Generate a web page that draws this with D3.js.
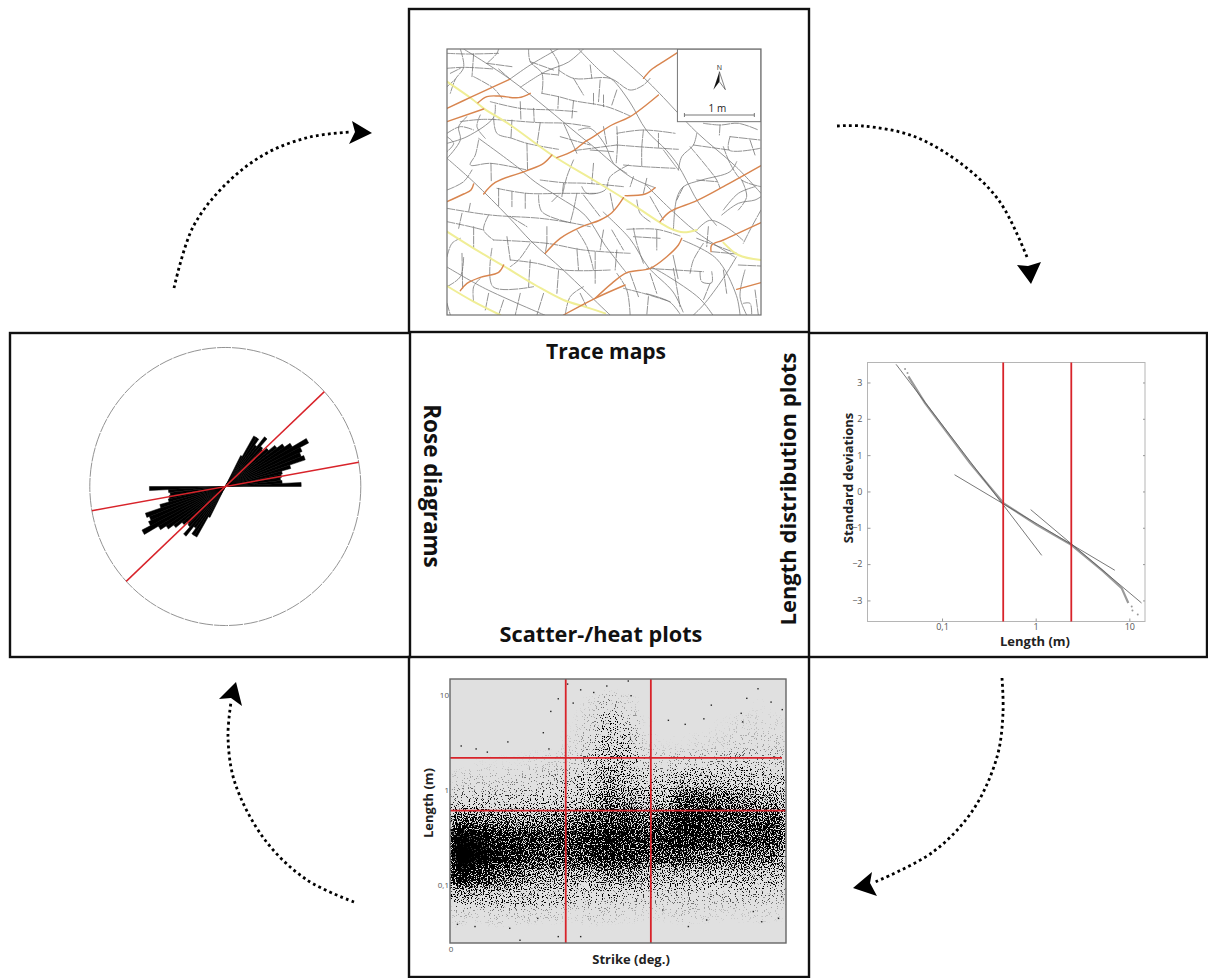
<!DOCTYPE html>
<html>
<head>
<meta charset="utf-8">
<script src="https://cdn.jsdelivr.net/npm/d3@7"></script>
<style>
	body { margin: 0; background: #fff; }
	text { font-family: "Open Sans", sans-serif; }
	.title { font-weight: 700; fill: #111; }
	.axis-label { font-weight: 700; font-size: 13px; fill: #222; }
	.tick text { font-size: 9px; fill: #555; }
	.trace { fill: none; stroke-linejoin: round; stroke-linecap: round; }
</style>
</head>
<body>
<svg id="chart" width="1208" height="978"></svg>
<script>
// trace map in map units (3 units = 1 px, 210 units = 1 m)
const orangeTraces = [
	[[50,235],[125,200],[238,148]],
	[[50,275],[160,237]],
	[[143,218],[170,200],[205,198],[265,203],[300,190]],
	[[640,145],[665,118],[700,95],[742,68]],
	[[160,492],[195,457],[290,422],[340,400],[365,375]],
	[[380,383],[430,362],[465,335],[490,320],[545,285],[600,260],[685,195]],
	[[50,515],[100,492],[122,480],[130,462]],
	[[345,670],[390,625],[450,592],[510,570],[545,548],[580,503]],
	[[585,497],[645,492],[675,473]],
	[[690,575],[720,545],[800,512],[880,470],[993,407]],
	[[755,625],[745,645],[710,680],[660,715],[590,728],[545,760],[495,805]],
	[[400,855],[495,805],[585,765]],
	[[90,782],[110,760],[150,742],[205,727],[220,705]],
	[[843,665],[845,645],[880,630],[993,578]],
	[[920,778],[993,758]]
];
const yellowTraces = [
	[[50,155],[125,207],[160,235],[240,285],[365,375],[490,450],[580,505],[690,578],[720,595],[760,607],[800,600]],
	[[880,638],[925,675],[993,690]],
	[[50,605],[130,655],[220,708],[320,768],[400,810],[470,832],[525,850]],
	[[50,768],[130,815],[210,855]]
];
const longTraces = [
	[[100,57],[240,148],[350,235],[440,310],[490,350],[600,440],[675,473]],
	[[549,61],[644,146],[689,191],[799,306],[919,411],[993,490]],
	[[445,57],[519,131],[549,151],[599,216],[649,301],[709,361],[744,406],[769,451],[804,516],[859,586]],
	[[50,385],[130,456],[235,561],[305,636],[400,721],[525,841],[540,855]],
	[[145,325],[260,410],[315,456],[385,501],[465,556],[525,646],[590,730]],
	[[50,711],[165,776],[345,856]],
	[[519,546],[599,626],[654,711],[729,786],[759,846]],
	[[649,466],[709,526],[799,606],[914,681]],
	[[759,631],[859,686],[919,796],[930,855]],
	[[919,681],[879,746],[819,826],[789,856]],
	[[238,148],[300,105],[385,56]],
	[[270,172],[345,125],[415,96],[460,57]],
	[[50,340],[110,320],[190,262],[195,225]],
	[[50,385],[90,330],[85,290],[110,260]],
	[[799,601],[839,571],[889,591],[939,631]],
	[[729,676],[744,746]],
	[[649,791],[719,816],[749,851]],
	[[730,600],[740,505],[760,470],[815,450],[900,425],[920,395]],
	[[664,711],[709,736],[809,806],[849,856]],
	[[875,555],[925,520],[975,510],[993,500]],
	[[880,540],[925,490],[975,470]],
	[[950,855],[930,800],[945,720]],
	[[400,280],[420,325],[440,370]],
	[[445,300],[480,295],[525,345],[550,400],[590,430]],
	[[745,420],[755,380],[790,345],[800,310]],
	[[700,360],[730,400],[745,420]]
];
const shortTraces = [
	[[50,70],[110,72],[205,70]],
	[[50,115],[100,112],[190,117]],
	[[90,57],[100,112],[75,148],[60,190]],
	[[130,72],[125,140]],
	[[205,57],[200,70],[170,100]],
	[[295,57],[300,95],[335,130],[335,190]],
	[[360,57],[385,100],[385,135]],
	[[385,120],[430,145],[540,145],[600,180],[640,165],[660,145]],
	[[430,145],[460,195]],
	[[510,150],[505,215]],
	[[480,105],[485,145]],
	[[560,180],[545,225]],
	[[335,190],[385,200],[430,212],[530,230],[600,258]],
	[[385,200],[383,235]],
	[[430,212],[425,265]],
	[[490,190],[490,222]],
	[[520,195],[520,230]],
	[[180,215],[270,235],[370,240],[440,245]],
	[[270,215],[272,270]],
	[[310,235],[312,275]],
	[[90,275],[160,268],[330,278],[410,280],[480,290]],
	[[245,270],[242,325]],
	[[330,278],[320,345]],
	[[190,262],[200,310],[245,325],[290,340],[385,358]],
	[[145,330],[135,375],[120,405],[180,400],[290,420]],
	[[182,400],[183,455]],
	[[290,340],[292,420]],
	[[50,480],[100,455],[125,420]],
	[[560,310],[640,300],[735,310]],
	[[560,345],[650,352],[745,358]],
	[[560,290],[562,345],[558,400]],
	[[640,300],[635,352],[635,410]],
	[[685,352],[685,310]],
	[[580,405],[640,410],[735,415]],
	[[820,280],[870,285],[925,280],[985,300]],
	[[870,285],[868,315]],
	[[900,320],[990,330]],
	[[900,320],[897,360],[990,355]],
	[[790,345],[897,360]],
	[[960,330],[975,375]],
	[[330,450],[400,458],[470,460],[580,470]],
	[[430,390],[410,440],[398,490]],
	[[490,400],[485,460]],
	[[455,470],[470,490],[525,480],[540,440],[595,405]],
	[[200,475],[290,490],[400,490],[500,490]],
	[[205,475],[205,530]],
	[[245,485],[245,530]],
	[[285,490],[285,535]],
	[[325,495],[335,545],[420,578]],
	[[365,515],[385,495]],
	[[50,535],[180,555],[330,565],[420,578],[480,590]],
	[[120,520],[115,545]],
	[[175,555],[160,600],[190,630]],
	[[95,550],[85,595]],
	[[190,630],[350,640],[460,660],[600,670]],
	[[350,590],[350,640]],
	[[590,598],[680,598],[750,618]],
	[[610,620],[690,625]],
	[[610,595],[620,640],[640,700]],
	[[680,600],[680,660]],
	[[95,670],[97,775]],
	[[50,680],[65,640],[90,625]],
	[[185,655],[188,770],[310,770]],
	[[240,690],[320,700],[400,720],[540,720]],
	[[300,690],[295,770]],
	[[385,722],[380,790]],
	[[440,655],[445,720]],
	[[495,665],[495,760]],
	[[650,715],[820,725]],
	[[730,715],[750,830]],
	[[810,725],[815,755],[845,758],[845,725]],
	[[800,450],[860,455]],
	[[800,625],[920,670]],
	[[845,665],[920,672]],
	[[925,705],[993,708]],
	[[150,745],[130,770],[130,815]],
	[[220,810],[205,855]],
	[[175,790],[165,840]],
	[[460,770],[420,800],[405,855]],
	[[580,775],[640,790],[720,815]],
	[[560,730],[590,780],[600,855]],
	[[940,820],[960,820],[965,855]],
	[[975,780],[985,855]],
	[[655,800],[650,855]],
	[[60,130],[90,115]],
	[[130,140],[190,175],[215,205]],
	[[205,117],[240,148]],
	[[170,100],[245,110]],
	[[300,95],[370,120]],
	[[335,130],[385,135]],
	[[50,170],[75,148]],
	[[150,255],[140,290],[165,325]],
	[[50,310],[90,290],[130,300]],
	[[50,320],[70,340],[50,365]],
	[[400,460],[395,500]],
	[[440,490],[430,540],[420,578]],
	[[460,495],[510,560]],
	[[540,490],[550,540]],
	[[610,440],[600,470]],
	[[650,445],[640,490]],
	[[660,500],[700,570]],
	[[620,510],[630,550],[660,575]],
	[[760,470],[740,510]],
	[[780,350],[830,410],[860,450],[870,475]],
	[[520,290],[530,345]],
	[[480,360],[550,365]],
	[[390,320],[480,345]],
	[[430,362],[560,345]],
	[[240,560],[290,590]],
	[[130,590],[130,655]],
	[[50,575],[120,590],[160,600]],
	[[230,620],[240,690]],
	[[300,640],[265,690],[240,710]],
	[[350,640],[345,670]],
	[[440,600],[470,650],[490,720]],
	[[520,600],[510,660]],
	[[545,600],[580,660]],
	[[560,660],[555,720]],
	[[660,730],[680,790]],
	[[600,730],[625,800]],
	[[835,590],[830,650]],
	[[880,720],[890,790]],
	[[880,350],[900,400],[935,450],[993,470]],
	[[935,450],[950,500],[925,540]],
	[[993,540],[960,600],[940,640]],
	[[820,640],[790,690],[780,730]],
	[[840,760],[820,810]],
	[[50,770],[90,740],[100,680]],
	[[50,820],[60,855]],
	[[270,790],[255,855]],
	[[340,790],[320,855]],
	[[450,790],[470,832]]
];
// scale bar end points and inset box, in the same map units
const mapExtentX = [50, 993];
const mapExtentY = [57, 855];
const insetBox = [742, 57, 993, 275];
const scaleBar = [763, 973, 255];
const northApex = [868, 125];

// rose diagram: strike bin (deg) and petal length (% of circle radius)
const roseStrike = [25.5,28.5,31.5,34.5,37.5,40.5,43.5,46.5,49.5,52.5,55.5,58.5,61.5,64.5,67.5,70.5,73.5,76.5,79.5,82.5,85.5,88.5];
const roseLength = [2.5,25,42,42,37,46,39,38,41,47,52,57,69,62,60,62,50,43,42,41,42,56];
const roseMajor = [47, 80];

// length distribution: empirical curve, stray points and the three fitted lines
const curveLength = [0.0437,0.0659,0.0952,0.199,0.452,1.025,2.4,5.28,8.28,9.75];
const curveSd = [3.17,2.43,1.88,0.78,-0.32,-0.92,-1.47,-2.2,-2.66,-3.07];
const strayLength = [0.0403,0.0428,10.6,10.8,12.3];
const straySd = [3.37,3.26,-3.17,-3.28,-3.39];
const fitLines = [
	[[0.0323,3.5],[1.16,-1.76]],
	[[0.136,0.46],[7.0,-2.17]],
	[[0.884,-0.5],[13.5,-3.07]]
];
const lengthCutoffs = [0.45, 2.4];
const sdTicks = [3,2,1,0,-1,-2,-3];
const lengthTicks = [0.1,1,10];
const lengthTickLabels = ['0,1','1','10'];

// scatter plot: share of black per 10 deg strike bin (columns) and 0.2 decade length bin (rows)
const densityLogLength = [1.2,1.0,0.8,0.6,0.4,0.2,0.0,-0.2,-0.4,-0.6,-0.8,-1.0,-1.2,-1.4];
const densityRows = [
	[.00,.00,.00,.00,.00,.00,.00,.00,.01,.01,.00,.00,.00,.00,.00,.01,.01,.00],
	[.00,.00,.00,.00,.00,.01,.01,.03,.10,.04,.01,.01,.01,.01,.01,.01,.02,.01],
	[.00,.00,.00,.00,.01,.01,.02,.06,.18,.10,.02,.01,.01,.01,.02,.03,.03,.03],
	[.01,.00,.01,.01,.01,.01,.03,.08,.25,.16,.03,.02,.02,.03,.03,.05,.05,.05],
	[.01,.02,.02,.02,.03,.04,.05,.12,.30,.22,.08,.06,.08,.08,.10,.12,.10,.10],
	[.05,.06,.06,.07,.08,.10,.12,.18,.38,.30,.18,.16,.30,.30,.28,.25,.22,.20],
	[.12,.14,.12,.13,.15,.17,.20,.30,.50,.40,.30,.32,.62,.60,.50,.45,.40,.40],
	[.55,.50,.45,.42,.42,.45,.50,.55,.65,.62,.55,.60,.80,.75,.62,.60,.60,.58],
	[.92,.88,.75,.70,.68,.65,.65,.72,.78,.75,.68,.72,.82,.72,.65,.65,.68,.65],
	[.98,.92,.85,.78,.65,.58,.60,.70,.75,.72,.62,.62,.62,.55,.52,.50,.52,.48],
	[.85,.72,.60,.50,.42,.38,.35,.35,.42,.40,.35,.30,.30,.28,.25,.30,.28,.25],
	[.35,.30,.28,.25,.22,.20,.16,.15,.15,.12,.12,.10,.10,.10,.10,.12,.12,.10],
	[.05,.04,.06,.06,.05,.05,.03,.05,.05,.04,.03,.03,.05,.04,.03,.03,.04,.03],
	[.01,.00,.01,.01,.00,.00,.00,.01,.00,.00,.00,.00,.00,.00,.00,.00,.00,.00]
];
const outlierStrike = [165,172,159,156,156.8,178,140,136,126,117,58,54,50,53,31,6,14,20,63,66,70,77,84,95.5,97,37.5,58,70,13.4,32,47,4,176,162.5,167,137.5,127.7,114,177.7];
const outlierLength = [11.6,8.4,9.2,6.4,5.2,7,7.8,5.6,4.9,5.4,9.1,6.7,4,2.7,3.2,2.9,2.7,2.5,13,8.2,11.3,10.6,12.4,14,9.8,0.0262,0.0286,0.0286,0.0365,0.035,0.0445,0.0385,0.0445,0.0525,0.041,0.0428,0.0365,0.0545,0.0752];
const strikeCutoffs = [62, 107.6];
const scatterCutoffs = [2.17, 0.605];
const scatterTicks = [10,1,0.1];
const scatterTickLabels = ['10','1','0,1'];

const red = '#d8232a';
const svg = d3.select('#chart');

function renderPanels() {

	const panels = [[409,9,400,323],[10,333,400,324],[809,333,398,324],[409,657,400,320]];
	svg.append('g').selectAll('rect')
		.data(panels)
		.join('rect')
		.attr('x', function(d) {return d[0];})
		.attr('y', function(d) {return d[1];})
		.attr('width', function(d) {return d[2];})
		.attr('height', function(d) {return d[3];})
		.attr('fill', 'none')
		.attr('stroke', '#111')
		.attr('stroke-width', 2.4);
}

function renderTraceMap() {

	const x = d3.scaleLinear().domain(mapExtentX).range([447, 761]);
	const y = d3.scaleLinear().domain(mapExtentY).range([49, 315]);
	const line = d3.line()
		.x(function(d) {return x(d[0]);})
		.y(function(d) {return y(d[1]);})
		.curve(d3.curveCatmullRom.alpha(0.5));

	const defs = svg.append('defs');
	defs.append('clipPath').attr('id', 'map-clip')
		.append('rect')
		.attr('x', 447).attr('y', 49).attr('width', 314).attr('height', 266);
	defs.append('filter').attr('id', 'soft-map')
		.append('feGaussianBlur').attr('stdDeviation', 0.3);

	const clip = svg.append('g').attr('clip-path', 'url(#map-clip)');
	const g = clip.append('g').attr('filter', 'url(#soft-map)');

	g.selectAll('path.long')
		.data(longTraces)
		.join('path')
		.attr('class', 'trace long')
		.attr('d', line)
		.attr('stroke', '#8f8f8f')
		.attr('stroke-width', 0.95);

	g.selectAll('path.short')
		.data(shortTraces)
		.join('path')
		.attr('class', 'trace short')
		.attr('d', line)
		.attr('stroke', '#6f6f6f')
		.attr('stroke-width', 0.75)
		.attr('stroke-linecap', 'butt')
		.attr('stroke-dasharray', '8 1.4');

	g.selectAll('path.yellow')
		.data(yellowTraces)
		.join('path')
		.attr('class', 'trace yellow')
		.attr('d', line)
		.attr('stroke', '#f0ee96')
		.attr('stroke-width', 2);

	g.selectAll('path.orange')
		.data(orangeTraces)
		.join('path')
		.attr('class', 'trace orange')
		.attr('d', line)
		.attr('stroke', '#d8854f')
		.attr('stroke-width', 1.4);

	// inset with north arrow and scale bar
	clip.append('rect')
		.attr('x', x(insetBox[0])).attr('y', y(insetBox[1]))
		.attr('width', x(insetBox[2]) - x(insetBox[0]))
		.attr('height', y(insetBox[3]) - y(insetBox[1]))
		.attr('fill', '#fff')
		.attr('stroke', '#777')
		.attr('stroke-width', 1);

	svg.append('rect')
		.attr('x', 447).attr('y', 49).attr('width', 314).attr('height', 266)
		.attr('fill', 'none')
		.attr('stroke', '#6e6e6e')
		.attr('stroke-width', 1.2);

	const cx = x(northApex[0]);
	const cy = y(northApex[1]);
	svg.append('text')
		.attr('x', cx).attr('y', cy - 2)
		.attr('text-anchor', 'middle')
		.attr('font-size', 7)
		.attr('fill', '#222')
		.text('N');
	svg.append('path')
		.attr('d', `M${cx},${cy}L${cx - 6},${cy + 18}L${cx},${cy + 10}Z`)
		.attr('fill', '#111');
	svg.append('path')
		.attr('d', `M${cx},${cy}L${cx + 6},${cy + 18}L${cx},${cy + 10}Z`)
		.attr('fill', '#fff')
		.attr('stroke', '#333')
		.attr('stroke-width', 0.6);

	const by = y(scaleBar[2]);
	svg.append('path')
		.attr('d', `M${x(scaleBar[0])},${by - 2}V${by + 2}M${x(scaleBar[0])},${by}H${x(scaleBar[1])}M${x(scaleBar[1])},${by - 2}V${by + 2}`)
		.attr('fill', 'none')
		.attr('stroke', '#777')
		.attr('stroke-width', 1);
	svg.append('text')
		.attr('x', (x(scaleBar[0]) + x(scaleBar[1])) / 2 - 2).attr('y', by - 3)
		.attr('text-anchor', 'middle')
		.attr('font-size', 10)
		.attr('fill', '#222')
		.text('1 m');
}

function renderRose() {

	const r = d3.scaleLinear().domain([0, 100]).range([0, 135.5]);
	const g = svg.append('g').attr('transform', 'translate(225.3,486.5) scale(1,1.026)');

	g.append('circle')
		.attr('r', r(100))
		.attr('fill', 'none')
		.attr('stroke', '#888')
		.attr('stroke-width', 0.9)
		.attr('stroke-dasharray', '14 1');

	const arc = d3.arc().innerRadius(0);
	const toRad = Math.PI / 180;
	const petals = [];
	roseStrike.forEach(function(s, i) {
		petals.push({a: s, len: roseLength[i]});
		petals.push({a: s + 180, len: roseLength[i]});
	});

	g.selectAll('path.petal')
		.data(petals)
		.join('path')
		.attr('class', 'petal')
		.attr('fill', '#000')
		.attr('stroke', '#000')
		.attr('stroke-width', 0.5)
		.attr('d', function(d) {
			return arc({
				startAngle: (d.a - 1.5) * toRad,
				endAngle: (d.a + 1.5) * toRad,
				outerRadius: r(d.len)
			});
		});

	g.selectAll('line.major')
		.data(roseMajor)
		.join('line')
		.attr('class', 'major')
		.attr('stroke', red)
		.attr('stroke-width', 1.5)
		.attr('x1', function(d) {return -r(100) * Math.sin(d * toRad);})
		.attr('y1', function(d) {return r(100) * Math.cos(d * toRad);})
		.attr('x2', function(d) {return r(100) * Math.sin(d * toRad);})
		.attr('y2', function(d) {return -r(100) * Math.cos(d * toRad);});
}

function renderLengthPlot() {

	const left = 867.5, right = 1145, top = 362.5, bottom = 621.5;
	const x = d3.scaleLog().domain([0.016, 14.7]).range([left, right]);
	const y = d3.scaleLinear().domain([3.55, -3.58]).range([top, bottom]);
	const g = svg.append('g');

	g.append('rect')
		.attr('x', left).attr('y', top)
		.attr('width', right - left).attr('height', bottom - top)
		.attr('fill', 'none')
		.attr('stroke', '#b5b5b5')
		.attr('stroke-width', 1);

	g.append('g')
		.attr('transform', `translate(0,${bottom})`)
		.call(d3.axisBottom(x).tickValues(lengthTicks).tickSize(-3).tickPadding(2)
			.tickFormat(function(d, i) {return lengthTickLabels[i];}))
		.call(function(a) {a.select('.domain').remove();})
		.call(function(a) {a.selectAll('line').attr('stroke', '#999');});

	g.append('g')
		.attr('transform', `translate(${left},0)`)
		.call(d3.axisLeft(y).tickValues(sdTicks).tickSize(-3).tickPadding(5).tickFormat(d3.format('d')))
		.call(function(a) {a.select('.domain').remove();})
		.call(function(a) {a.selectAll('line').attr('stroke', '#999');});

	g.append('g')
		.attr('transform', `translate(${right},0)`)
		.call(d3.axisRight(y).tickValues(sdTicks).tickSize(-2).tickFormat(''))
		.call(function(a) {a.select('.domain').remove();})
		.call(function(a) {a.selectAll('line').attr('stroke', '#999');});

	const pts = curveLength.map(function(l, i) {return [l, curveSd[i]];});
	const line = d3.line()
		.x(function(d) {return x(d[0]);})
		.y(function(d) {return y(d[1]);});

	g.append('path')
		.datum(pts)
		.attr('d', line)
		.attr('fill', 'none')
		.attr('stroke', '#9a9a9a')
		.attr('stroke-width', 2.2);

	g.selectAll('circle.stray')
		.data(strayLength)
		.join('circle')
		.attr('class', 'stray')
		.attr('cx', function(d) {return x(d);})
		.attr('cy', function(d, i) {return y(straySd[i]);})
		.attr('r', 1)
		.attr('fill', '#999');

	g.selectAll('path.fit')
		.data(fitLines)
		.join('path')
		.attr('class', 'fit')
		.attr('d', line)
		.attr('fill', 'none')
		.attr('stroke', '#555')
		.attr('stroke-width', 0.8);

	g.selectAll('line.cut')
		.data(lengthCutoffs)
		.join('line')
		.attr('class', 'cut')
		.attr('x1', function(d) {return x(d);})
		.attr('x2', function(d) {return x(d);})
		.attr('y1', top)
		.attr('y2', bottom)
		.attr('stroke', red)
		.attr('stroke-width', 1.8);

	g.append('text').attr('class', 'axis-label')
		.attr('x', 1035).attr('y', 646)
		.attr('text-anchor', 'middle')
		.text('Length (m)');
	g.append('text').attr('class', 'axis-label')
		.attr('transform', 'translate(853,478) rotate(-90)')
		.attr('text-anchor', 'middle')
		.text('Standard deviations');
}

function renderScatter() {

	const left = 450, right = 786, top = 679, bottom = 943;
	const x = d3.scaleLinear().domain([0, 180]).range([left, right]);
	const y = d3.scaleLog().domain([14.7, 0.0245]).range([top, bottom]);

	const defs = svg.append('defs');
	defs.append('clipPath').attr('id', 'scatter-clip')
		.append('rect')
		.attr('x', left).attr('y', top).attr('width', right - left).attr('height', bottom - top);

	// grain for the density cells, so the heat layer reads as stippled dots
	const grain = defs.append('filter')
		.attr('id', 'grain')
		.attr('filterUnits', 'userSpaceOnUse')
		.attr('x', left - 20).attr('y', top - 20)
		.attr('width', right - left + 40).attr('height', bottom - top + 40)
		.attr('color-interpolation-filters', 'sRGB');
	grain.append('feGaussianBlur').attr('in', 'SourceAlpha').attr('stdDeviation', 4).attr('result', 'soft');
	grain.append('feTurbulence')
		.attr('type', 'fractalNoise').attr('baseFrequency', 0.85).attr('numOctaves', 1).attr('seed', 4).attr('result', 'noise');
	grain.append('feColorMatrix').attr('in', 'noise').attr('type', 'matrix')
		.attr('values', '0 0 0 0 0  0 0 0 0 0  0 0 0 0 0  3.4 0 0 0 -1.2')
		.attr('result', 'noiseAlpha');
	grain.append('feComposite')
		.attr('in', 'soft').attr('in2', 'noiseAlpha').attr('operator', 'arithmetic')
		.attr('k1', 0).attr('k2', 1.25).attr('k3', 1).attr('k4', -1.02).attr('result', 'sum');
	const contrast = grain.append('feComponentTransfer').attr('in', 'sum');
	contrast.append('feFuncA').attr('type', 'linear').attr('slope', 6).attr('intercept', 0);

	svg.append('rect')
		.attr('x', left).attr('y', top)
		.attr('width', right - left).attr('height', bottom - top)
		.attr('fill', '#e0e0e0');

	const cells = [];
	densityRows.forEach(function(row, i) {
		row.forEach(function(v, j) {
			cells.push({strike: j * 10, logL: densityLogLength[i], v: v});
		});
	});

	const g = svg.append('g').attr('clip-path', 'url(#scatter-clip)');
	const dots = g.append('g').attr('filter', 'url(#grain)');

	dots.selectAll('rect')
		.data(cells)
		.join('rect')
		.attr('x', function(d) {return x(d.strike);})
		.attr('width', x(10) - x(0) + 0.5)
		.attr('y', function(d) {return y(Math.pow(10, d.logL));})
		.attr('height', y(Math.pow(10, -0.2)) - y(1) + 0.5)
		.attr('fill', '#000')
		.attr('fill-opacity', function(d) {return d.v;});

	g.selectAll('rect.outlier')
		.data(outlierStrike)
		.join('rect')
		.attr('class', 'outlier')
		.attr('x', function(d) {return x(d) - 0.7;})
		.attr('y', function(d, i) {return y(outlierLength[i]) - 0.7;})
		.attr('width', 1.4)
		.attr('height', 1.4)
		.attr('fill', '#222');

	g.selectAll('line.h-cut')
		.data(scatterCutoffs)
		.join('line')
		.attr('class', 'h-cut')
		.attr('x1', left)
		.attr('x2', function(d, i) {return i === 0 ? right - 4 : right;})
		.attr('y1', function(d) {return y(d);})
		.attr('y2', function(d) {return y(d);})
		.attr('stroke', red)
		.attr('stroke-width', 1.8);

	g.selectAll('line.v-cut')
		.data(strikeCutoffs)
		.join('line')
		.attr('class', 'v-cut')
		.attr('x1', function(d) {return x(d);})
		.attr('x2', function(d) {return x(d);})
		.attr('y1', top)
		.attr('y2', bottom)
		.attr('stroke', red)
		.attr('stroke-width', 1.8);

	svg.append('rect')
		.attr('x', left).attr('y', top)
		.attr('width', right - left).attr('height', bottom - top)
		.attr('fill', 'none')
		.attr('stroke', '#666')
		.attr('stroke-width', 1.4);

	svg.append('g')
		.attr('transform', `translate(${left},0)`)
		.call(d3.axisLeft(y).tickValues(scatterTicks).tickSize(0).tickPadding(1)
			.tickFormat(function(d, i) {return scatterTickLabels[i];}))
		.call(function(a) {a.select('.domain').remove();})
		.call(function(a) {a.selectAll('text').style('font-size', '8px');});

	svg.append('text')
		.attr('x', left + 1).attr('y', bottom + 9)
		.attr('text-anchor', 'middle')
		.attr('fill', '#555')
		.style('font-size', '8px')
		.text('0');

	svg.append('text').attr('class', 'axis-label')
		.attr('x', 631).attr('y', 964)
		.attr('text-anchor', 'middle')
		.text('Strike (deg.)');
	svg.append('text').attr('class', 'axis-label')
		.attr('transform', 'translate(433,803) rotate(-90)')
		.attr('text-anchor', 'middle')
		.text('Length (m)');
}

function renderTitles() {

	const titles = [
		{text: 'Trace maps', t: 'translate(606,359)', size: 21},
		{text: 'Scatter-/heat plots', t: 'translate(601,642)', size: 21.7},
		{text: 'Rose diagrams', t: 'translate(424,486) rotate(90)', size: 22.5},
		{text: 'Length distribution plots', t: 'translate(796,489) rotate(-90)', size: 22}
	];
	svg.append('g').selectAll('text')
		.data(titles)
		.join('text')
		.attr('class', 'title')
		.attr('text-anchor', 'middle')
		.attr('font-size', function(d) {return d.size;})
		.attr('transform', function(d) {return d.t;})
		.text(function(d) {return d.text;});
}

function renderArrows() {

	const arrows = [
		{path: [[174,288],[193,227],[227,183],[267,153],[310,137],[350,132]], head: [[372,133],[352,121],[355,132],[349,144]]},
		{path: [[837,126],[863,126],[913,136],[963,165],[1000,202],[1027,257]], head: [[1031,284],[1017,265],[1028,266],[1041,262]]},
		{path: [[1002,678],[1003,713],[997,757],[973,810],[933,852],[875,882]], head: [[853,888],[872,872],[870,883],[877,896]]},
		{path: [[354,902],[307,880],[265,840],[235,783],[228,737],[231,702]], head: [[236,682],[219,699],[231,698],[242,706]]}
	];
	const line = d3.line().curve(d3.curveCatmullRom);
	const g = svg.append('g');

	g.selectAll('path.shaft')
		.data(arrows)
		.join('path')
		.attr('class', 'shaft')
		.attr('d', function(d) {return line(d.path);})
		.attr('fill', 'none')
		.attr('stroke', '#000')
		.attr('stroke-width', 2.8)
		.attr('stroke-dasharray', '2.8 3.2');

	g.selectAll('path.head')
		.data(arrows)
		.join('path')
		.attr('class', 'head')
		.attr('d', function(d) {return 'M' + d.head.join('L') + 'Z';})
		.attr('fill', '#000');
}

renderTraceMap();
renderRose();
renderLengthPlot();
renderScatter();
renderPanels();
renderTitles();
renderArrows();
</script>
</body>
</html>
